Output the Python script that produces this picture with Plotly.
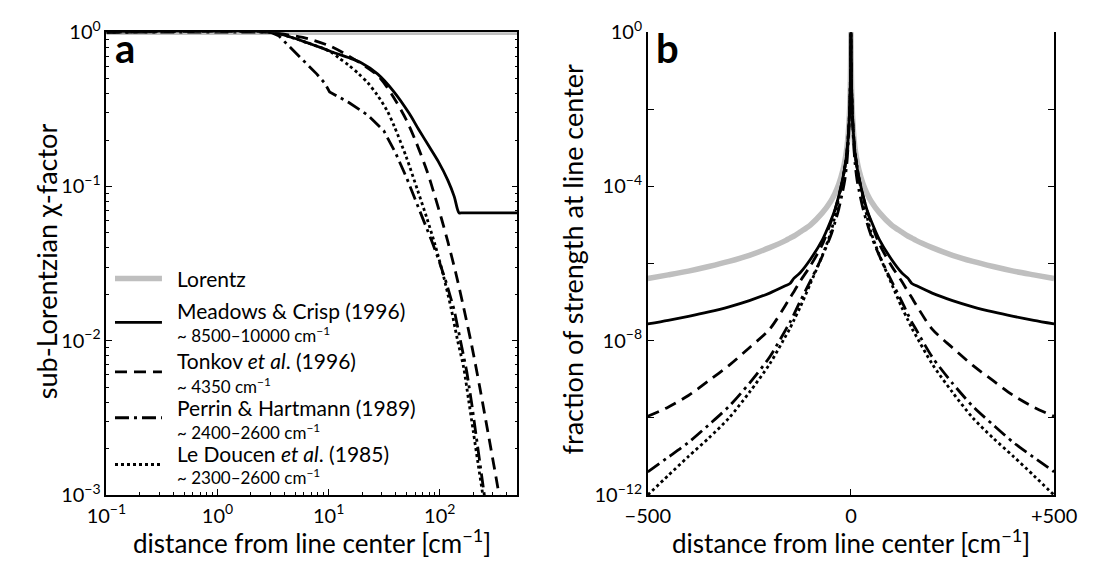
import plotly.graph_objects as go

# ---------------- data: panel a (sub-Lorentzian chi-factor) ----------------
lor_x = [0.1, 500]
lor_y = [1.0, 1.0]

mc_x = [0.1, 3.0, 4.6, 6.4, 8.9, 11.6, 15, 19.6, 27.5, 38.4, 53, 64.6, 79, 96.6, 118, 135, 149, 160, 500]
mc_y = [1.0, 1.0, 0.927, 0.855, 0.785, 0.73, 0.685, 0.634, 0.537, 0.414, 0.298, 0.234, 0.185, 0.146,
        0.110, 0.086, 0.0675, 0.0675, 0.0675]

tk_x = [0.1, 3.0, 4.0, 6.6, 10.2, 15.2, 27.5, 37, 50, 61, 77, 90.6, 103.5, 118, 139, 164, 194, 229,
        270, 342, 420]
tk_y = [1.0, 1.0, 0.97, 0.905, 0.815, 0.70, 0.525, 0.395, 0.27, 0.195, 0.125, 0.086, 0.062, 0.044,
        0.0277, 0.0164, 0.0093, 0.005, 0.0026, 0.001, 0.0004]

pe_x = [0.1, 3.0, 3.54, 4.6, 6.0, 7.8, 9.25, 10.2, 15.2, 22.5, 31.4, 40, 50, 60, 70, 85, 97, 114, 135,
        154, 175, 194, 214, 237, 255, 300]
pe_y = [1.0, 1.0, 0.95, 0.785, 0.65, 0.537, 0.466, 0.41, 0.35, 0.29, 0.229, 0.165, 0.115, 0.083, 0.062,
        0.044, 0.034, 0.024, 0.0158, 0.0101, 0.0063, 0.0039, 0.0024, 0.0014, 0.001, 0.0004]

ld_x = [0.1, 3.0, 4.6, 6.4, 8.9, 10.5, 12.4, 15.2, 18.5, 22.5, 27.5, 33.6, 39, 50, 63, 76.7, 90.6, 107,
        126, 144, 164, 182, 200, 221, 244, 280]
ld_y = [1.0, 1.0, 0.927, 0.855, 0.785, 0.745, 0.68, 0.61, 0.54, 0.47, 0.39, 0.31, 0.245, 0.155,
        0.095, 0.062, 0.042, 0.027, 0.0164, 0.0102, 0.0067, 0.0041, 0.0026, 0.0016, 0.001, 0.0005]

# ---------------- data: panel b (fraction of strength at line center) ----------------
dnu = [0, 0.5, 1, 2, 3, 5, 7, 10, 15, 20, 30, 40, 50, 70, 100, 125, 140, 150, 160, 200, 250, 300,
       350, 400, 450, 500]
lor_r = [1, 0.29, 0.093, 0.025, 0.0112, 4.1e-3, 2.1e-3, 1.0e-3, 4.6e-4, 2.6e-4, 1.14e-4, 6.4e-5, 4.1e-5,
         2.1e-5, 1.0e-5, 6.6e-6, 5.2e-6, 4.6e-6, 4.0e-6, 2.6e-6, 1.64e-6, 1.14e-6, 8.4e-7, 6.4e-7,
         5.1e-7, 4.1e-7]
mc_r = [1, 0.29, 0.093, 0.025, 0.0112, 3.8e-3, 1.8e-3, 7.5e-4, 3.1e-4, 1.64e-4, 5.7e-5, 2.4e-5, 1.27e-5,
        4.2e-6, 1.28e-6, 5.8e-7, 4.2e-7, 3.05e-7, 2.7e-7, 1.72e-7, 1.1e-7, 7.6e-8, 5.6e-8, 4.3e-8,
        3.4e-8, 2.75e-8]
tk_r = [1, 0.29, 0.093, 0.025, 0.0112, 3.9e-3, 1.84e-3, 8.1e-4, 3.2e-4, 1.6e-4, 5.5e-5, 2.3e-5, 1.15e-5,
        3.2e-6, 8.7e-7, 3.5e-7, 1.9e-7, 1.3e-7, 8.7e-8, 2.0e-8, 6.6e-9, 2.3e-9, 9.2e-10, 3.8e-10,
        1.9e-10, 1.1e-10]
pe_r = [1, 0.29, 0.093, 0.025, 0.0112, 3.0e-3, 1.17e-3, 4.1e-4, 1.5e-4, 7.8e-5, 2.6e-5, 1.1e-5, 5.2e-6,
        1.6e-6, 3.5e-7, 1.05e-7, 4.9e-8, 3.0e-8, 1.98e-8, 3.8e-9, 7.9e-10, 2.0e-10, 6.6e-11, 2.3e-11,
        9.5e-12, 4.0e-12]
ld_r = [1, 0.29, 0.093, 0.025, 0.0112, 3.8e-3, 1.78e-3, 7.6e-4, 3.3e-4, 1.55e-4, 4.9e-5, 1.6e-5, 6.2e-6,
        1.66e-6, 3.0e-7, 7.4e-8, 3.5e-8, 2.1e-8, 1.36e-8, 2.5e-9, 4.6e-10, 1.0e-10, 3.0e-11, 1.0e-11,
        3.2e-12, 1.0e-12]

left_xticks = [0.1, 1, 10, 100]
left_xtext = ["10<sup>−1</sup>", "10<sup>0</sup>", "10<sup>1</sup>", "10<sup>2</sup>"]
left_yticks = [0.001, 0.01, 0.1, 1]
left_ytext = ["10<sup>−3</sup>", "10<sup>−2</sup>", "10<sup>−1</sup>", "10<sup>0</sup>"]
right_xticks = [-500, 0, 500]
right_xtext = ["−500", "0", "+500"]
right_yticks = [1e-12, 1e-8, 1e-4, 1]
right_ytext = ["10<sup>−12</sup>", "10<sup>−8</sup>", "10<sup>−4</sup>", "10<sup>0</sup>"]
right_yminor = [1e-10, 1e-6, 1e-2]

legend_main = ["Lorentz", "Meadows &amp; Crisp (1996)", "Tonkov <i>et al</i>. (1996)",
               "Perrin &amp; Hartmann (1989)", "Le Doucen <i>et al</i>. (1985)"]
legend_sub = ["", "~ 8500–10000 cm<sup>−1</sup>", "~ 4350 cm<sup>−1</sup>",
              "~ 2400–2600 cm<sup>−1</sup>", "~ 2300–2600 cm<sup>−1</sup>"]

# ---------------- styles ----------------
W, H = 1102, 570
FONT = "Lato, 'Open Sans', sans-serif"
GRAY = "#bfbfbf"
styles = [
    dict(color=GRAY, width=5.5, dash="solid"),
    dict(color="black", width=2.8, dash="solid"),
    dict(color="black", width=2.8, dash="12px,7px"),
    dict(color="black", width=2.8, dash="14px,5px,3px,5px"),
    dict(color="black", width=2.8, dash="3px,3px"),
]
left_shapes = ["linear", "spline", "spline", "linear", "spline"]

def px(x):
    return x / W

def py(y):
    return 1 - y / H

fig = go.Figure()

left_series = [(lor_x, lor_y), (mc_x, mc_y), (tk_x, tk_y), (pe_x, pe_y), (ld_x, ld_y)]
for (xs, ys), st, shp, nm in zip(left_series, styles, left_shapes, legend_main):
    line = dict(st, shape=shp)
    if shp == "spline":
        line["smoothing"] = 0.8
    fig.add_trace(go.Scatter(x=xs, y=ys, mode="lines", line=line, xaxis="x", yaxis="y",
                             showlegend=False, name=nm))

xs_full = [-d for d in reversed(dnu)] + dnu[1:]
right_series = [lor_r, mc_r, tk_r, pe_r, ld_r]
for ys, st, nm in zip(right_series, styles, legend_main):
    y_full = list(reversed(ys)) + ys[1:]
    fig.add_trace(go.Scatter(x=xs_full, y=y_full, mode="lines",
                             line=dict(st, shape="spline", smoothing=0.8),
                             xaxis="x2", yaxis="y2", showlegend=False, name=nm))

# panel geometry (pixels)
L0, L1 = 87, 516
R0, R1 = 652, 1076
T, B = 18, 503

axis_common = dict(showline=True, linecolor="black", linewidth=1.5, ticks="inside",
                   tickcolor="black", tickwidth=1.2, showgrid=False, zeroline=False,
                   ticklabeloverflow="allow",
                   tickfont=dict(family=FONT, size=20, color="black"))

minor_x = [m * 10 ** e for e in (-1, 0, 1) for m in range(2, 10)] + [200, 300, 400]
minor_y = [m * 10 ** e for e in (-3, -2, -1) for m in range(2, 10)]

fig.update_layout(
    width=W, height=H,
    margin=dict(l=0, r=0, t=0, b=0),
    paper_bgcolor="white", plot_bgcolor="white",
    font=dict(family=FONT, color="black"),
    xaxis=dict(domain=[px(L0), px(L1)], type="log", range=[-1, 2.699], mirror=True,
               tickvals=left_xticks, ticktext=left_xtext, ticklen=6, anchor="y",
               ticklabelstandoff=2,
               minor=dict(tickvals=minor_x, ticks="inside", ticklen=3, tickcolor="black", showgrid=False),
               **axis_common),
    yaxis=dict(domain=[py(B), py(T)], type="log", range=[-3, 0], mirror="ticks",
               tickvals=left_yticks, ticktext=left_ytext, ticklen=6, anchor="x",
               minor=dict(tickvals=minor_y, ticks="inside", ticklen=3, tickcolor="black", showgrid=False),
               **axis_common),
    xaxis2=dict(domain=[px(R0), px(R1)], range=[-500, 500], anchor="y2",
                tickvals=right_xticks, ticktext=right_xtext, ticklen=6, mirror=False,
                ticklabelstandoff=2,
                **axis_common),
    yaxis2=dict(domain=[py(B), py(T)], type="log", range=[-12, 0], anchor="x2", mirror="ticks",
                tickvals=right_yticks, ticktext=right_ytext, ticklen=6,
                minor=dict(tickvals=right_yminor, ticks="inside", ticklen=6, tickcolor="black", showgrid=False),
                **axis_common),
)

ann = []
# panel letters
ann.append(dict(text="<b>a</b>", x=px(94), y=py(35), xref="paper", yref="paper",
                xanchor="left", yanchor="middle", showarrow=False,
                font=dict(family=FONT, size=40, color="black")))
ann.append(dict(text="<b>b</b>", x=px(658), y=py(35), xref="paper", yref="paper",
                xanchor="left", yanchor="middle", showarrow=False,
                font=dict(family=FONT, size=40, color="black")))
# axis titles
ann.append(dict(text="distance from line center [cm<sup>−1</sup>]", x=px((L0 + L1) / 2), y=py(552),
                xref="paper", yref="paper", xanchor="center", yanchor="middle", showarrow=False,
                font=dict(family=FONT, size=26, color="black")))
ann.append(dict(text="distance from line center [cm<sup>−1</sup>]", x=px((R0 + R1) / 2), y=py(552),
                xref="paper", yref="paper", xanchor="center", yanchor="middle", showarrow=False,
                font=dict(family=FONT, size=26, color="black")))
ann.append(dict(text="sub-Lorentzian χ-factor", x=px(24), y=py(258), textangle=-90,
                xref="paper", yref="paper", xanchor="center", yanchor="middle", showarrow=False,
                font=dict(family=FONT, size=27, color="black")))
ann.append(dict(text="fraction of strength at line center", x=px(573), y=py(256), textangle=-90,
                xref="paper", yref="paper", xanchor="center", yanchor="middle", showarrow=False,
                font=dict(family=FONT, size=27, color="black")))

# legend (drawn by hand inside panel a)
sample_y = [276, 322, 374, 422, 471]
main_y = [276, 310, 362, 411, 459]
sub_y = [None, 335, 388, 436, 484]
shapes = []
for i in range(5):
    st = styles[i]
    shapes.append(dict(type="line", xref="paper", yref="paper", x0=px(96), x1=px(145),
                       y0=py(sample_y[i]), y1=py(sample_y[i]),
                       line=dict(color=st["color"], width=st["width"], dash=st["dash"])))
    ann.append(dict(text=legend_main[i], x=px(159), y=py(main_y[i]), xref="paper", yref="paper",
                    xanchor="left", yanchor="middle", showarrow=False,
                    font=dict(family=FONT, size=21, color="black")))
    if legend_sub[i]:
        ann.append(dict(text=legend_sub[i], x=px(159), y=py(sub_y[i]), xref="paper", yref="paper",
                        xanchor="left", yanchor="middle", showarrow=False,
                        font=dict(family=FONT, size=17, color="black")))

fig.update_layout(annotations=ann, shapes=shapes)
fig.write_html("out.html")
